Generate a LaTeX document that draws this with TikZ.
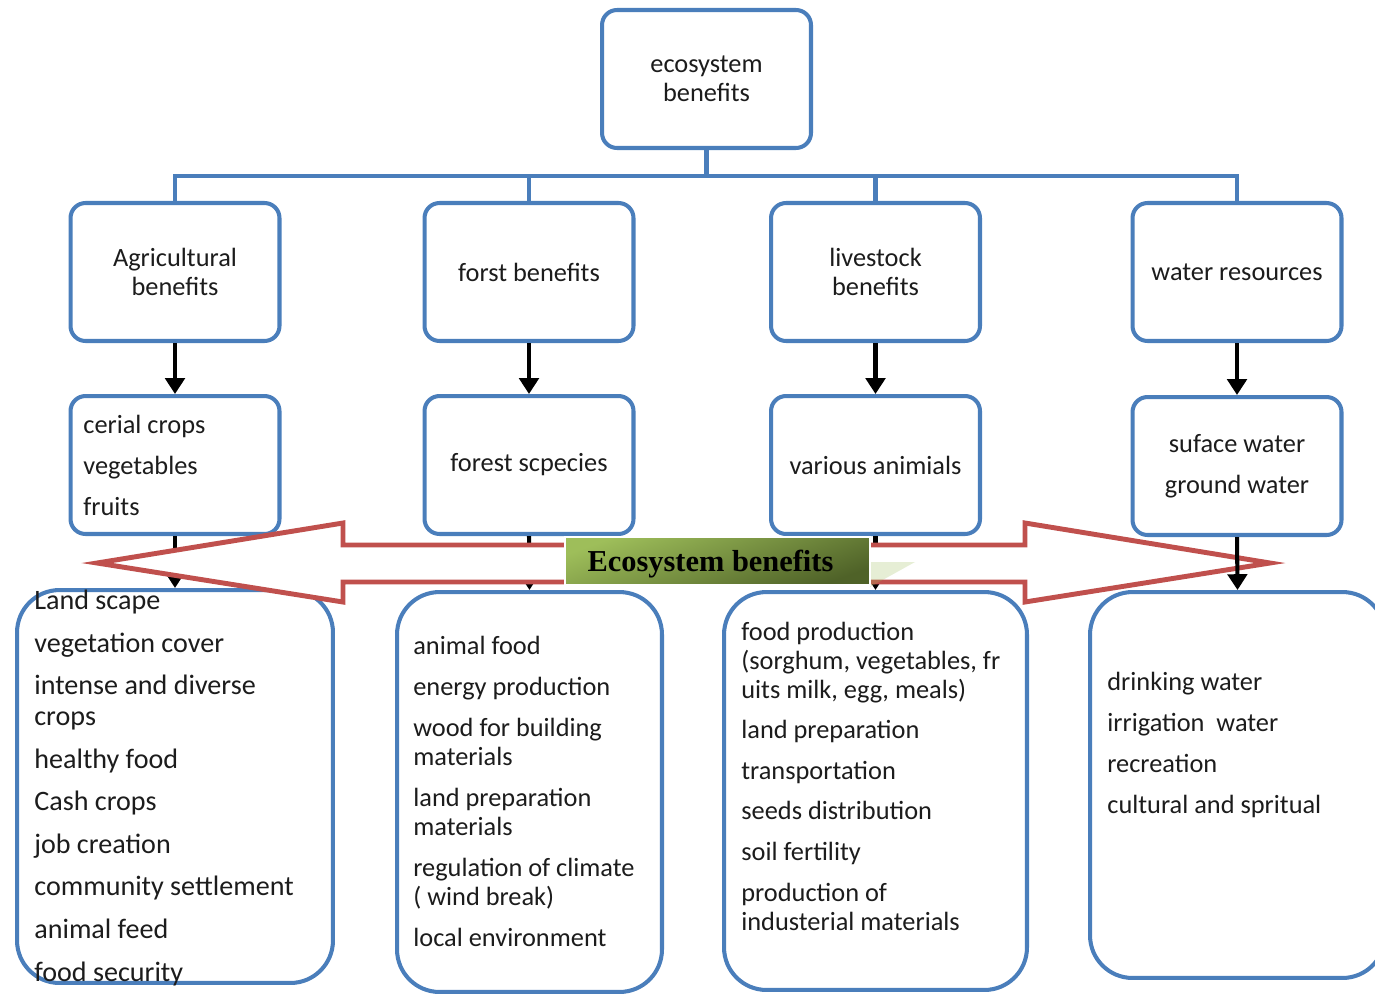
\documentclass[tikz,border=0pt]{standalone}
\usepackage{fontspec}
\setmainfont{Carlito}
\newfontfamily\labelfont{Liberation Serif}
\usetikzlibrary{arrows.meta}
\definecolor{boxblue}{RGB}{74,126,187}
\definecolor{arrred}{RGB}{192,80,77}
\definecolor{gl}{RGB}{158,190,90}
\definecolor{gd}{RGB}{79,98,40}
\definecolor{txt}{RGB}{28,28,28}
\begin{document}
\begin{tikzpicture}[x=0.02cm,y=-0.02cm,
  box/.style={draw=boxblue, line width=2.3pt, rounded corners=0.3cm, fill=white,
    inner sep=0pt, align=center, text=txt, font=\fontsize{15}{16.5}\selectfont,
    minimum width=4.18cm, minimum height=2.76cm},
  bigbox/.style={draw=boxblue, line width=2.3pt, rounded corners=0.85cm, fill=white, inner sep=0pt},
  listtext/.style={anchor=base west, align=left, inner sep=0pt, text=txt, font=\fontsize{15}{16.5}\selectfont},
  bus/.style={draw=boxblue, line width=2.8pt},
  blk/.style={draw=black, line width=2.3pt, -{Triangle[width=11pt,length=9pt]}},
  bigarrow/.style={draw=arrred, line width=2.8pt, fill=white, miter limit=10},
  lbl/.style={draw=white, line width=1.6pt, inner sep=0pt, minimum width=6.1cm, minimum height=0.96cm,
    text depth=0pt, shading=axis, top color=gl, bottom color=gd, shading angle=20,
    font=\labelfont\bfseries\fontsize{17.3}{19}\selectfont, text=black}
]
\useasboundingbox (0,0) rectangle (1375,994);
\coordinate (busY) at (0,176);

% tree
\node[box] (top) at (706.5,79) {ecosystem\\benefits};
\node[box] (a1) at (175,272) {Agricultural\\benefits};
\node[box] (a2) at (529,272) {forst benefits};
\node[box] (a3) at (875.5,272) {livestock\\benefits};
\node[box] (a4) at (1237,272) {water resources};
\foreach \n in {a1,a2,a3,a4}
  \draw[bus] (top.south) -- (top.south |- busY) -| (\n.north);

\node[box] (b1) at (175,465) {};
\node[listtext] (b1t) at (83,515) {cerial crops\\[6.8pt]vegetables\\[6.8pt]fruits};
\node[box] (b2) at (529,465) {forest scpecies};
\node[box] (b3) at (875.5,465) {various animials};
\node[box, font=\fontsize{15}{23.3}\selectfont] (b4) at (1237,466) {suface water\\ground water};

\foreach \i in {1,2,3,4}
  \draw[blk] (a\i.south) -- (b\i.north);

% bottom boxes
\node[bigbox, minimum width=6.32cm, minimum height=7.86cm] (c1) at (175,786.5) {};
\node[bigbox, minimum width=5.3cm, minimum height=8.0cm] (c2) at (529.5,792) {};
\node[bigbox, minimum width=6.06cm, minimum height=7.96cm] (c3) at (875.5,791) {};
\node[bigbox, minimum width=5.9cm, minimum height=7.72cm] (c4) at (1237.5,785) {};

\foreach \i in {1,2,3}
  \draw[blk] (b\i.south) -- (c\i.north);

\node[listtext, font=\fontsize{16}{17.6}\selectfont] (c1t) at (34,981)
  {Land scape\\[6.6pt]vegetation cover\\[6.6pt]intense and diverse\\crops\\[6.6pt]healthy food\\[6.6pt]Cash crops\\[6.6pt]job creation\\[6.6pt]community settlement\\[6.6pt]animal feed\\[6.6pt]food security};
\node[listtext] (c2t) at (413,946)
  {animal food\\[6.8pt]energy production\\[6.8pt]wood for building\\materials\\[6.8pt]land preparation\\materials\\[6.8pt]regulation of climate\\( wind break)\\[6.8pt]local environment};
\node[listtext] (c3t) at (741,930)
  {food production\\(sorghum, vegetables, fr\\uits milk, egg, meals)\\[6.6pt]land preparation\\[6.6pt]transportation\\[6.6pt]seeds distribution\\[6.6pt]soil fertility\\[6.6pt]production of\\industerial materials};
\node[listtext] (c4t) at (1107,813)
  {drinking water\\[6.8pt]irrigation\ \ water\\[6.8pt]recreation\\[6.8pt]cultural and spritual};

% big double arrow
\draw[bigarrow] (97,563) -- (343,523) -- (343,545) -- (1025,545) -- (1025,523) -- (1270,563)
  -- (1025,602) -- (1025,582) -- (343,582) -- (343,602) -- cycle;

% label
\fill[gl, opacity=0.25] (870,562) -- (915,562) -- (870,587) -- cycle;
\node[lbl] (lab) at (717.5,561) {\hspace*{-0.28cm}Ecosystem benefits};

\draw[blk] (b4.south) -- (c4.north);
\end{tikzpicture}
\end{document}
